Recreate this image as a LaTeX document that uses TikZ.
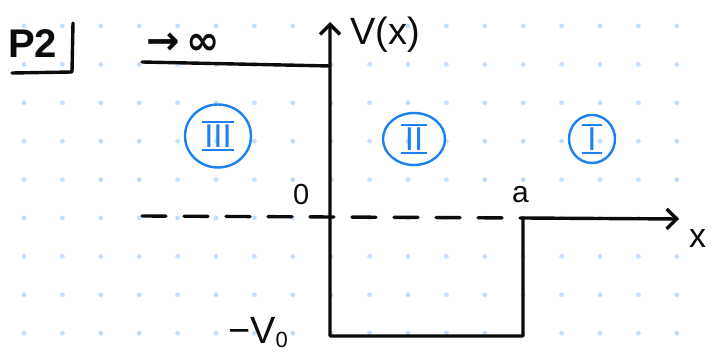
\documentclass[tikz,border=0pt]{standalone}
\usepackage{fontspec}
\setmainfont{Liberation Sans}
\newfontfamily\symfont{DejaVu Sans}
\usetikzlibrary{arrows.meta,shapes.geometric}
\definecolor{dotc}{RGB}{196,223,251}
\definecolor{pen}{RGB}{12,12,12}
\definecolor{bluepen}{RGB}{28,128,238}
\newcommand\rnum[2]{\vbox{\hrule height 2.4pt\kern1.2pt\hbox{\kern#2 #1\kern#2}\kern1.2pt\hrule height 2.4pt}}
\begin{document}
\begin{tikzpicture}[x=1pt,y=-1pt,line cap=round,line join=round,
  ink/.style={draw=pen,line width=3.4pt},
  lbl/.style={text=pen,inner sep=0pt,anchor=base west},
  region/.style={draw=bluepen,line width=2.4pt,ellipse,inner sep=0pt,text=bluepen,
    font=\fontsize{33}{33}\selectfont},
  barb/.tip={Straight Barb[length=10pt,width=20pt,line width=3.4pt]}]
\useasboundingbox[fill=white] (0,0) rectangle (714,352);
% dot grid
\foreach \i in {0,...,17}{\foreach \j in {0,...,8}{
  \fill[dotc] ({24+38.4*\i},{26+38.4*\j}) circle (2.4);}}
% coordinates
\coordinate (topL) at (142,62);
\coordinate (topR) at (330,66);
\coordinate (axT) at (330,22);
\coordinate (wellBL) at (330,336);
\coordinate (wellBR) at (523,336);
\coordinate (wellTR) at (523,218);
\coordinate (xEnd) at (679,219);
\coordinate (dashL) at (142,216);
\coordinate (barT) at (73,23);
\coordinate (barB) at (72,72);
\coordinate (ulL) at (12,73);
% title
\node[lbl,font=\bfseries\fontsize{40}{40}\selectfont] (p2) at (8,58) {P2};
\draw[ink] (barT) -- (barB) -- (ulL);
\node[lbl,font=\symfont\bfseries\fontsize{40}{40}\selectfont] (inf) at (146,55) {→\,∞};
% potential
\draw[ink] (topL) -- (topR);
\draw[ink,barb-barb] (axT) -- (wellBL) -- (wellBR) -- (wellTR) -- (xEnd);
\draw[ink,dash pattern=on 24pt off 18pt] (dashL) -- (wellTR);
% labels
\node[lbl,font=\fontsize{38}{38}\selectfont] (vx) at (350,45) {V(x)};
\node[lbl,font=\fontsize{29}{29}\selectfont] (zero) at (293,205) {0};
\node[lbl,font=\fontsize{30}{30}\selectfont] (a) at (512,203) {a};
\node[lbl,font=\fontsize{34}{34}\selectfont] (x) at (689,248) {x};
\node[lbl,font=\fontsize{38}{38}\selectfont] (v0) at (228,343) {−V\raisebox{-4pt}{\fontsize{22}{22}\selectfont 0}};
% regions
\node[region,minimum width=66pt,minimum height=63pt] (r3) at (218,136) {\rnum{III}{2pt}};
\node[region,minimum width=62pt,minimum height=52pt] (r2) at (414,139) {\rnum{II}{4pt}};
\node[region,minimum width=46pt,minimum height=48pt] (r1) at (592,139) {\rnum{I}{5pt}};
\end{tikzpicture}
\end{document}
